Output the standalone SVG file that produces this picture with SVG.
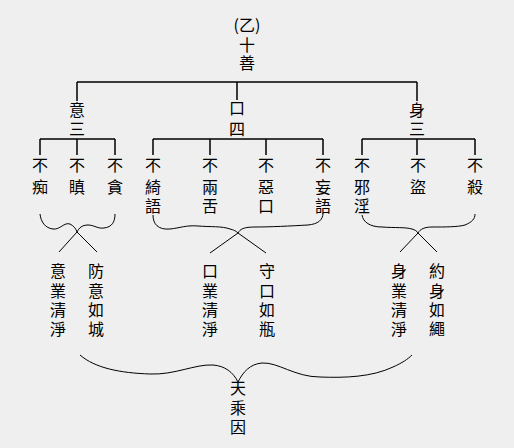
<svg xmlns="http://www.w3.org/2000/svg" width="514" height="448" viewBox="0 0 514 448">
<style>
text{font-family:"Noto Sans CJK TC","Noto Sans CJK SC",sans-serif;font-size:16px;fill:#000;text-anchor:middle}
.t{fill:none;stroke:#000;stroke-width:1.5}
.c{fill:none;stroke:#000;stroke-width:1}
</style>
<rect width="514" height="448" fill="#efefef"/>
<g id="connectors">
<path class="t" d="M77 82H417M77 82V101M237 82V100M417 82V101"/>
<path class="t" d="M40 139H115M40 139V155M77 139V155M115 139V155"/>
<path class="t" d="M153 139H323M153 139V155M210 139V155M266 139V155M323 139V155"/>
<path class="t" d="M362 139H475M362 139V155M417 139V155M475 139V155"/>
<path class="c" d="M40 214C41 222 45 228 53 229C60 230 64 222 70 224C74 226 76 229 77 232C79 228 82 225 88 225C94 225 98 229 104 228C112 227 115 222 115 214"/>
<path class="c" d="M59 252L77 232L97 252"/>
<path class="c" d="M153 215C153 224 158 230 170 229C180 228 186 225 198 226C210 227 222 226 230 229C234 230 236 231 238 233C240 229 244 227 255 227C270 227 290 226 308 225C318 224 323 220 323 213"/>
<path class="c" d="M210 253L238 233L266 253"/>
<path class="c" d="M362 215C363 222 370 227 382 227C395 228 405 227 412 229C415 230 417 231 418 233C420 229 425 227 432 227C445 227 458 227 465 225C472 222 475 219 475 214"/>
<path class="c" d="M400 252L418 233L437 252"/>
<path class="c" d="M80 355C95 368 120 373 150 374C175 375 195 364 213 365C225 366 233 372 238 382C243 372 250 364 262 363C278 362 295 377 320 377C345 378 372 377 393 367C402 363 408 359 412 355"/>
</g>
<g id="title">
<text x="247" y="31">(乙)</text>
<text x="247" y="51">十</text>
<text x="247" y="69">善</text>
</g>
<g id="yi3"><text x="77" y="116">意</text><text x="77" y="135">三</text></g>
<g id="kou4"><text x="237" y="114">口</text><text x="237" y="135">四</text></g>
<g id="shen3"><text x="417" y="116">身</text><text x="417" y="135">三</text></g>
<g id="n1"><text x="40" y="171">不</text><text x="40" y="193">痴</text></g>
<g id="n2"><text x="77" y="171">不</text><text x="77" y="193">瞋</text></g>
<g id="n3"><text x="115" y="171">不</text><text x="115" y="193">貪</text></g>
<g id="n4"><text x="153" y="171">不</text><text x="153" y="193">綺</text><text x="153" y="212">語</text></g>
<g id="n5"><text x="210" y="171">不</text><text x="210" y="193">兩</text><text x="210" y="212">舌</text></g>
<g id="n6"><text x="266" y="171">不</text><text x="266" y="193">惡</text><text x="266" y="212">口</text></g>
<g id="n7"><text x="323" y="171">不</text><text x="323" y="193">妄</text><text x="323" y="212">語</text></g>
<g id="n8"><text x="362" y="171">不</text><text x="362" y="193">邪</text><text x="362" y="212">淫</text></g>
<g id="n9"><text x="418" y="171">不</text><text x="418" y="193">盜</text></g>
<g id="n10"><text x="475" y="171">不</text><text x="475" y="193">殺</text></g>
<g id="b1"><text x="58" y="277">意</text><text x="58" y="297">業</text><text x="58" y="316">清</text><text x="58" y="335">淨</text></g>
<g id="b2"><text x="96" y="277">防</text><text x="96" y="297">意</text><text x="96" y="316">如</text><text x="96" y="335">城</text></g>
<g id="b3"><text x="210" y="277">口</text><text x="210" y="297">業</text><text x="210" y="316">清</text><text x="210" y="335">淨</text></g>
<g id="b4"><text x="267" y="277">守</text><text x="267" y="297">口</text><text x="267" y="316">如</text><text x="267" y="335">瓶</text></g>
<g id="b5"><text x="399" y="277">身</text><text x="399" y="297">業</text><text x="399" y="316">清</text><text x="399" y="335">淨</text></g>
<g id="b6"><text x="437" y="277">約</text><text x="437" y="297">身</text><text x="437" y="316">如</text><text x="437" y="335">繩</text></g>
<g id="bottom"><text x="238" y="394">天</text><text x="238" y="414">乘</text><text x="238" y="433">因</text></g>
</svg>
